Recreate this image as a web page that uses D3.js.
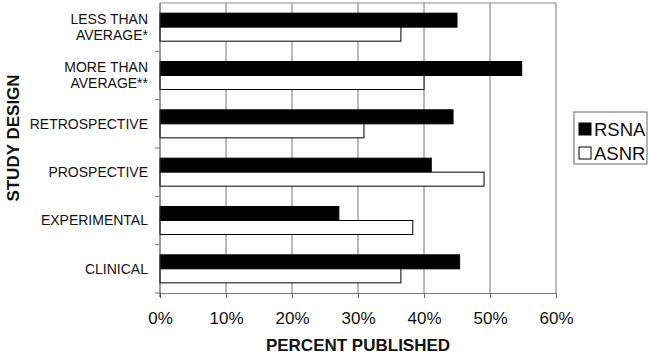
<!DOCTYPE html>
<html>
<head>
<meta charset="utf-8">
<script src="https://cdn.jsdelivr.net/npm/d3@7"></script>
<style>
  body { margin: 0; background: #fff; }
  text { font-family: Arial, "Liberation Sans", Helvetica, sans-serif; fill: #111; }
</style>
</head>
<body>
<svg id="chart" width="650" height="355"></svg>
<script>
// study design categories, top to bottom
var categories = [
  ['LESS THAN', 'AVERAGE*'],
  ['MORE THAN', 'AVERAGE**'],
  ['RETROSPECTIVE'],
  ['PROSPECTIVE'],
  ['EXPERIMENTAL'],
  ['CLINICAL']
]
var seriesNames = ['RSNA', 'ASNR']
var rsnaValues = [0.45, 0.548, 0.444, 0.411, 0.271, 0.454]
var asnrValues = [0.365, 0.400, 0.309, 0.491, 0.383, 0.365]
var xTicks = [0, 0.1, 0.2, 0.3, 0.4, 0.5, 0.6]

var svg = d3.select('#chart')
// note: "top" is taken by window.top, so use plotTop
var plotLeft = 160, plotRight = 556, plotTop = 3, plotBottom = 293

var x = d3.scaleLinear().domain([0, 0.6]).range([plotLeft, plotRight])
var y = d3.scaleBand().domain(d3.range(categories.length)).range([plotTop, plotBottom])
var y1 = d3.scaleBand().domain(seriesNames).range([0, y.bandwidth()])
  .paddingInner(0).paddingOuter(0.725)

var fills = { RSNA: '#000', ASNR: '#fff' }

// gridlines
svg.append('g')
  .selectAll('line')
  .data(xTicks.slice(1))
  .enter()
  .append('line')
  .attr('x1', (d) => x(d)).attr('x2', (d) => x(d))
  .attr('y1', plotTop).attr('y2', plotBottom)
  .attr('stroke', '#777').attr('stroke-width', 1)

svg.append('line')
  .attr('x1', plotLeft).attr('x2', plotRight).attr('y1', plotTop).attr('y2', plotTop)
  .attr('stroke', '#888')

// bars
var rows = categories.map((c, i) => ({ i: i, RSNA: rsnaValues[i], ASNR: asnrValues[i] }))
var groups = svg.append('g')
  .selectAll('g')
  .data(rows)
  .enter()
  .append('g')
  .attr('transform', (d) => `translate(0, ${y(d.i)})`)

groups.selectAll('rect')
  .data((d) => seriesNames.map((s) => ({ key: s, value: d[s] })))
  .enter()
  .append('rect')
  .attr('x', x(0))
  .attr('y', (d) => y1(d.key))
  .attr('width', (d) => x(d.value) - x(0))
  .attr('height', y1.bandwidth())
  .attr('fill', (d) => fills[d.key])
  .attr('stroke', '#000')
  .attr('stroke-width', 1)

// bottom axis
var xAxis = d3.axisBottom(x).tickValues(xTicks).tickFormat(d3.format('.0%'))
  .tickSize(5).tickSizeOuter(0).tickPadding(14)
var gx = svg.append('g').attr('transform', `translate(0, ${plotBottom})`).call(xAxis)
gx.select('.domain').attr('stroke', '#777')
gx.selectAll('.tick line').attr('stroke', '#666')
gx.selectAll('.tick text')
  .style('font-size', '17px').style('font-family', 'Arial, "Liberation Sans", sans-serif')
  .attr('fill', '#111')

// left axis line
svg.append('line')
  .attr('x1', plotLeft).attr('x2', plotLeft).attr('y1', plotTop).attr('y2', plotBottom + 4)
  .attr('stroke', '#333')

// separator ticks between categories
svg.append('g')
  .selectAll('line')
  .data(d3.range(1, categories.length + 1))
  .enter()
  .append('line')
  .attr('x1', plotLeft - 5).attr('x2', plotLeft)
  .attr('y1', (d) => plotTop + d * y.step()).attr('y2', (d) => plotTop + d * y.step())
  .attr('stroke', '#777')

// category labels
var labels = svg.append('g')
  .selectAll('text')
  .data(categories)
  .enter()
  .append('text')
  .attr('text-anchor', 'end')
  .style('font-size', '14px')
  .attr('transform', (d, i) => `translate(${plotLeft - 12}, ${y(i) + y.bandwidth() / 2})`)

labels.selectAll('tspan')
  .data((d) => d.map((t, j) => ({ t: t, j: j, n: d.length })))
  .enter()
  .append('tspan')
  .attr('x', 0)
  .attr('y', (d) => (d.j - (d.n - 1) / 2) * 16)
  .attr('dy', '0.35em')
  .text((d) => d.t)

// axis titles
svg.append('text')
  .attr('x', (plotLeft + plotRight) / 2).attr('y', 351)
  .attr('text-anchor', 'middle')
  .style('font-size', '17px').style('font-weight', 'bold')
  .text('PERCENT PUBLISHED')

svg.append('text')
  .attr('transform', 'translate(19, 138) rotate(-90)')
  .attr('text-anchor', 'middle')
  .style('font-size', '17px').style('font-weight', 'bold')
  .text('STUDY DESIGN')

// legend
var legend = svg.append('g').attr('transform', 'translate(574, 112)')
legend.append('rect')
  .attr('width', 73).attr('height', 52)
  .attr('fill', '#fff').attr('stroke', '#666')

var items = legend.selectAll('g.item')
  .data(seriesNames)
  .enter()
  .append('g')
  .attr('class', 'item')
  .attr('transform', (d, i) => `translate(5, ${11 + i * 24})`)

items.append('rect')
  .attr('width', 12).attr('height', 12)
  .attr('fill', (d) => fills[d])
  .attr('stroke', '#000')

items.append('text')
  .attr('x', 15).attr('y', 6).attr('dy', '0.36em')
  .style('font-size', '18.5px')
  .text((d) => d)
</script>
</body>
</html>
